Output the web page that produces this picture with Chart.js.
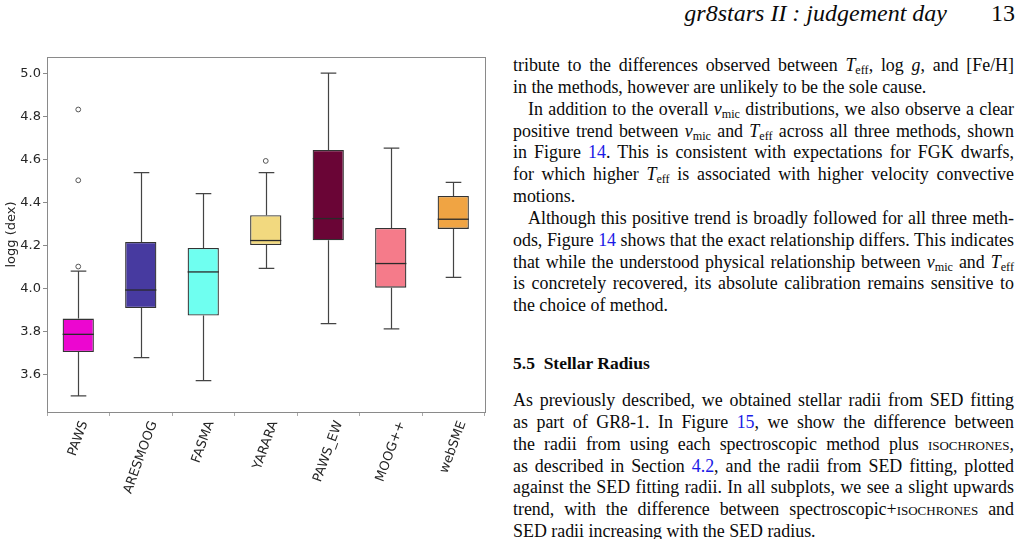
<!DOCTYPE html>
<html>
<head>
<meta charset="utf-8">
<script src="https://cdn.jsdelivr.net/npm/chart.js@4.4.1/dist/chart.umd.min.js"></script>
<style>
  html, body { margin: 0; padding: 0; background: #fff; }
  body { width: 1021px; height: 539px; position: relative; overflow: hidden; }
  #chartBox { position: absolute; left: 0; top: 0; width: 500px; height: 539px; }
  .serif { font-family: "Liberation Serif", "Times New Roman", serif; color: #0a0a0a; }
  #runhead { position: absolute; right: 6px; top: -1px; font-size: 24px; line-height: 28px; white-space: nowrap; }
  #runhead i { margin-right: 44px; }
  .col { position: absolute; left: 513px; width: 501px; font-size: 17.9px; line-height: 21.85px; }
  .ln { white-space: nowrap; text-align: justify; text-align-last: justify; height: 21.85px; overflow: visible; }
  .ln.last { text-align-last: left; }
  .ind { text-indent: 15px; }
  .sub { font-size: 0.68em; vertical-align: -0.28em; font-style: normal; }
  .lk { color: #1a1ae6; }
  .sc { font-variant: small-caps; }
  #heading { position: absolute; left: 513px; top: 353px; font-size: 17.5px; font-weight: bold; line-height: 21.7px; }
</style>
</head>
<body>
<div id="chartBox"><canvas id="c"></canvas></div>

<div id="runhead" class="serif"><i>gr8stars II : judgement day</i>13</div>

<div class="col serif" style="top:55px;">
  <div class="ln">tribute to the differences observed between <i>T</i><span class="sub">eff</span>, log <i>g</i>, and [Fe/H]</div>
  <div class="ln last">in the methods, however are unlikely to be the sole cause.</div>
  <div class="ln ind">In addition to the overall <i>v</i><span class="sub">mic</span> distributions, we also observe a clear</div>
  <div class="ln">positive trend between <i>v</i><span class="sub">mic</span> and <i>T</i><span class="sub">eff</span> across all three methods, shown</div>
  <div class="ln">in Figure <span class="lk">14</span>. This is consistent with expectations for FGK dwarfs,</div>
  <div class="ln">for which higher <i>T</i><span class="sub">eff</span> is associated with higher velocity convective</div>
  <div class="ln last">motions.</div>
  <div class="ln ind">Although this positive trend is broadly followed for all three meth-</div>
  <div class="ln">ods, Figure <span class="lk">14</span> shows that the exact relationship differs. This indicates</div>
  <div class="ln">that while the understood physical relationship between <i>v</i><span class="sub">mic</span> and <i>T</i><span class="sub">eff</span></div>
  <div class="ln">is concretely recovered, its absolute calibration remains sensitive to</div>
  <div class="ln last">the choice of method.</div>
</div>

<div id="heading" class="serif">5.5&nbsp;&nbsp;Stellar Radius</div>

<div class="col serif" style="top:390px;">
  <div class="ln">As previously described, we obtained stellar radii from SED fitting</div>
  <div class="ln">as part of GR8-1. In Figure <span class="lk">15</span>, we show the difference between</div>
  <div class="ln">the radii from using each spectroscopic method plus <span class="sc">isochrones</span>,</div>
  <div class="ln">as described in Section <span class="lk">4.2</span>, and the radii from SED fitting, plotted</div>
  <div class="ln">against the SED fitting radii. In all subplots, we see a slight upwards</div>
  <div class="ln">trend, with the difference between spectroscopic+<span class="sc">isochrones</span> and</div>
  <div class="ln last">SED radii increasing with the SED radius.</div>
</div>

<script>
// ---- data ----
const categories  = ['PAWS', 'ARESMOOG', 'FASMA', 'YARARA', 'PAWS_EW', 'MOOG++', 'webSME'];
const whiskerLow  = [3.500, 3.678, 3.571, 4.093, 3.836, 3.811, 4.051];
const q1          = [3.704, 3.908, 3.873, 4.201, 4.223, 4.003, 4.276];
const medians     = [3.786, 3.992, 4.076, 4.222, 4.324, 4.115, 4.321];
const q3          = [3.859, 4.215, 4.187, 4.340, 4.643, 4.280, 4.429];
const whiskerHigh = [4.080, 4.538, 4.440, 4.538, 5.000, 4.651, 4.492];
const outlierCats = ['PAWS', 'PAWS', 'PAWS', 'YARARA'];
const outlierVals = [4.831, 4.502, 4.101, 4.592];
const yTicks      = [3.6, 3.8, 4.0, 4.2, 4.4, 4.6, 4.8, 5.0];
const boxColors   = ['#ec06d0', '#473aa0', '#6ffff0', '#f2d97f', '#6a0536', '#f57b8a', '#f0a443'];

const boxData = q1.map((v, i) => [v, q3[i]]);
const outlierData = outlierCats.map((c, i) => ({ x: c, y: outlierVals[i] }));

const boxPlugin = {
  id: 'boxParts',
  beforeDatasetsDraw(chart) {
    const { ctx, scales: { x, y } } = chart;
    const w = x.width / categories.length;
    ctx.save();
    ctx.strokeStyle = '#444';
    ctx.lineWidth = 1.2;
    categories.forEach((c, i) => {
      const px = Math.round(x.getPixelForValue(i)) + 0.5;
      const capHalf = w * 0.125;
      const yh = y.getPixelForValue(whiskerHigh[i]);
      const yl = y.getPixelForValue(whiskerLow[i]);
      ctx.beginPath();
      ctx.moveTo(px, y.getPixelForValue(q3[i]));
      ctx.lineTo(px, yh);
      ctx.moveTo(px, y.getPixelForValue(q1[i]));
      ctx.lineTo(px, yl);
      ctx.moveTo(px - capHalf, yh); ctx.lineTo(px + capHalf, yh);
      ctx.moveTo(px - capHalf, yl); ctx.lineTo(px + capHalf, yl);
      ctx.stroke();
    });
    ctx.restore();
  },
  afterDatasetsDraw(chart) {
    const { ctx, scales: { x, y }, chartArea } = chart;
    const w = x.width / categories.length;
    ctx.save();
    ctx.strokeStyle = '#2a2a2a';
    ctx.lineWidth = 1.3;
    categories.forEach((c, i) => {
      const px = x.getPixelForValue(i);
      const half = w * 0.25;
      const ym = y.getPixelForValue(medians[i]);
      ctx.beginPath();
      ctx.moveTo(px - half, ym); ctx.lineTo(px + half, ym);
      ctx.stroke();
    });
    // frame
    ctx.strokeStyle = '#8a8a8a';
    ctx.lineWidth = 1;
    ctx.strokeRect(Math.round(chartArea.left) + 0.5, Math.round(chartArea.top) + 0.5,
                   Math.round(chartArea.right - chartArea.left), Math.round(chartArea.bottom - chartArea.top));
    // x tick labels, rotated 70 deg, centred on tick
    ctx.fillStyle = '#262626';
    ctx.font = '13px "DejaVu Sans"';
    const ang = 70 * Math.PI / 180;
    const top = chartArea.bottom + 7;
    categories.forEach((c, i) => {
      const px = x.getPixelForValue(i);
      const tw = ctx.measureText(c).width;
      const th = 15;
      const bh = tw * Math.sin(ang) + th * Math.cos(ang);
      ctx.save();
      ctx.translate(px, top + bh / 2);
      ctx.rotate(-ang);
      ctx.textAlign = 'center';
      ctx.textBaseline = 'middle';
      ctx.fillText(c, 0, 0);
      ctx.restore();
    });
    ctx.restore();
  }
};

new Chart(document.getElementById('c'), {
  type: 'bar',
  data: {
    labels: categories,
    datasets: [
      {
        label: 'box',
        data: boxData,
        backgroundColor: boxColors,
        borderColor: '#333',
        borderWidth: 1.3,
        borderSkipped: false,
        barPercentage: 0.5,
        categoryPercentage: 1.0,
        order: 2
      },
      {
        type: 'scatter',
        label: 'outliers',
        data: outlierData,
        pointStyle: 'circle',
        pointRadius: 2.4,
        pointBorderWidth: 1,
        pointBorderColor: '#555',
        pointBackgroundColor: 'rgba(255,255,255,0)',
        showLine: false,
        order: 1
      }
    ]
  },
  options: {
    responsive: true,
    maintainAspectRatio: false,
    animation: false,
    events: [],
    layout: { padding: { top: 57, right: 15.5, left: 0, bottom: 0 } },
    plugins: { legend: { display: false }, tooltip: { enabled: false } },
    scales: {
      x: {
        type: 'category',
        offset: true,
        grid: { display: true, drawOnChartArea: false, drawTicks: true, tickLength: 4, color: '#aaa' },
        border: { display: true, color: '#8a8a8a' },
        ticks: { display: false },
        afterFit(scale) { scale.height = 127; }
      },
      y: {
        min: 3.425,
        max: 5.075,
        afterBuildTicks(scale) { scale.ticks = yTicks.map(v => ({ value: v })); },
        grid: { display: true, drawOnChartArea: false, drawTicks: true, tickLength: 4, color: '#8a8a8a' },
        border: { display: true, color: '#8a8a8a' },
        ticks: {
          color: '#262626',
          padding: 2,
          font: { family: 'DejaVu Sans', size: 13 },
          callback: (v) => Number(v).toFixed(1)
        },
        title: {
          display: true,
          text: 'logg (dex)',
          color: '#262626',
          font: { family: 'DejaVu Sans', size: 13 },
          padding: { top: 4, bottom: 0 }
        },
        afterFit(scale) { scale.width = 47; }
      }
    }
  },
  plugins: [boxPlugin]
});
</script>
</body>
</html>
